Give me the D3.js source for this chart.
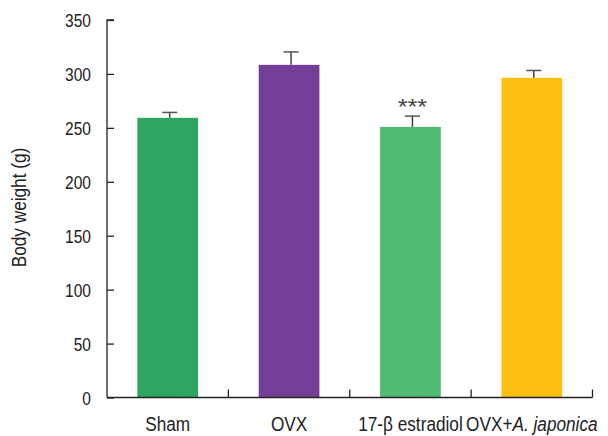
<!DOCTYPE html>
<html><head><meta charset="utf-8">
<script src="https://cdn.jsdelivr.net/npm/d3@7"></script>
<style>body{margin:0;background:#fff}svg{display:block}text{font-family:"Liberation Sans Narrow","Arial Narrow","Liberation Sans",sans-serif;fill:#222}</style>
</head><body><svg id="c" width="608" height="436"></svg>
<script>
const categories = ["Sham","OVX","17-β estradiol","OVX+A. japonica"];
const values = [259.3, 308.4, 250.9, 296.4];
const errors = [5.0, 12.0, 10.0, 6.8];
const colors = ["#2ea562","#743e96","#50bb72","#fdc010"];
const yTicks = [0,50,100,150,200,250,300,350];
const marks = ["","","***",""];

const SX = 0.84;
const svg = d3.select("#c");
const x = d3.scaleBand().domain(categories).range([107,592.5]).paddingInner(0.5).paddingOuter(0.25);
const y = d3.scaleLinear().domain([0,350]).range([397.5,20]);

// bars
svg.selectAll("rect.bar").data(categories).join("rect")
  .attr("x", d=>x(d)).attr("width", x.bandwidth())
  .attr("y", (d,i)=>y(values[i])).attr("height", (d,i)=>y(0)-y(values[i]))
  .attr("fill", (d,i)=>colors[i]);

// error bars
const off = 2;
categories.forEach((c,i)=>{
  const cx = x(c)+x.bandwidth()/2+off;
  svg.append("line").attr("x1",cx).attr("x2",cx).attr("y1",y(values[i])).attr("y2",y(values[i]+errors[i])).attr("stroke","#444").attr("stroke-width",1.5);
  svg.append("line").attr("x1",cx-7.5).attr("x2",cx+7.5).attr("y1",y(values[i]+errors[i])).attr("y2",y(values[i]+errors[i])).attr("stroke","#555").attr("stroke-width",1.5);
  if(marks[i]) svg.append("text").attr("transform",`translate(${cx},${y(values[i]+errors[i])-2}) scale(1.15,1)`)
    .attr("text-anchor","middle").attr("font-size",22).style("fill","#444").text(marks[i]);
});

// y axis
const ya = svg.append("g").attr("transform","translate(107,0)")
  .call(d3.axisRight(y).tickValues(yTicks).tickSize(7).tickFormat(d3.format("d")));
ya.select(".domain").attr("stroke","#222").attr("stroke-width",1.3).attr("d","M7,20H0V397.5");
ya.selectAll(".tick line").attr("stroke","#222").attr("stroke-width",1.3);
ya.selectAll(".tick text").attr("x",-16/SX).attr("dy","0.36em").attr("transform",`scale(${SX},1)`)
  .attr("text-anchor","end").attr("font-size",18.5).style("fill","#222");

// x axis
const xa = svg.append("g").attr("transform","translate(0,397.5)");
xa.append("line").attr("x1",107).attr("x2",592.5).attr("y1",0).attr("y2",0).attr("stroke","#222").attr("stroke-width",1.3);
const step = x.step();
categories.forEach((c,i)=>{
  const xe = x(c)+x.bandwidth()/2 + step/2;
  xa.append("line").attr("x1",xe).attr("x2",xe).attr("y1",0).attr("y2",-8).attr("stroke","#222").attr("stroke-width",1.3);
});
categories.forEach((c,i)=>{
  const t = xa.append("text").attr("transform",`translate(${x(c)+x.bandwidth()/2},33.5) scale(${SX},1)`)
    .attr("text-anchor","middle").attr("font-size",20.5).style("fill","#222");
  if(c.startsWith("OVX+")){
    t.append("tspan").text("OVX+");
    t.append("tspan").attr("font-style","italic").text("A. japonica");
  } else t.text(c);
});

// y label
svg.append("text").attr("transform",`translate(26,207.5) rotate(-90) scale(${SX},1)`).attr("text-anchor","middle").attr("font-size",20.5).style("fill","#222").text("Body weight (g)");
</script></body></html>
